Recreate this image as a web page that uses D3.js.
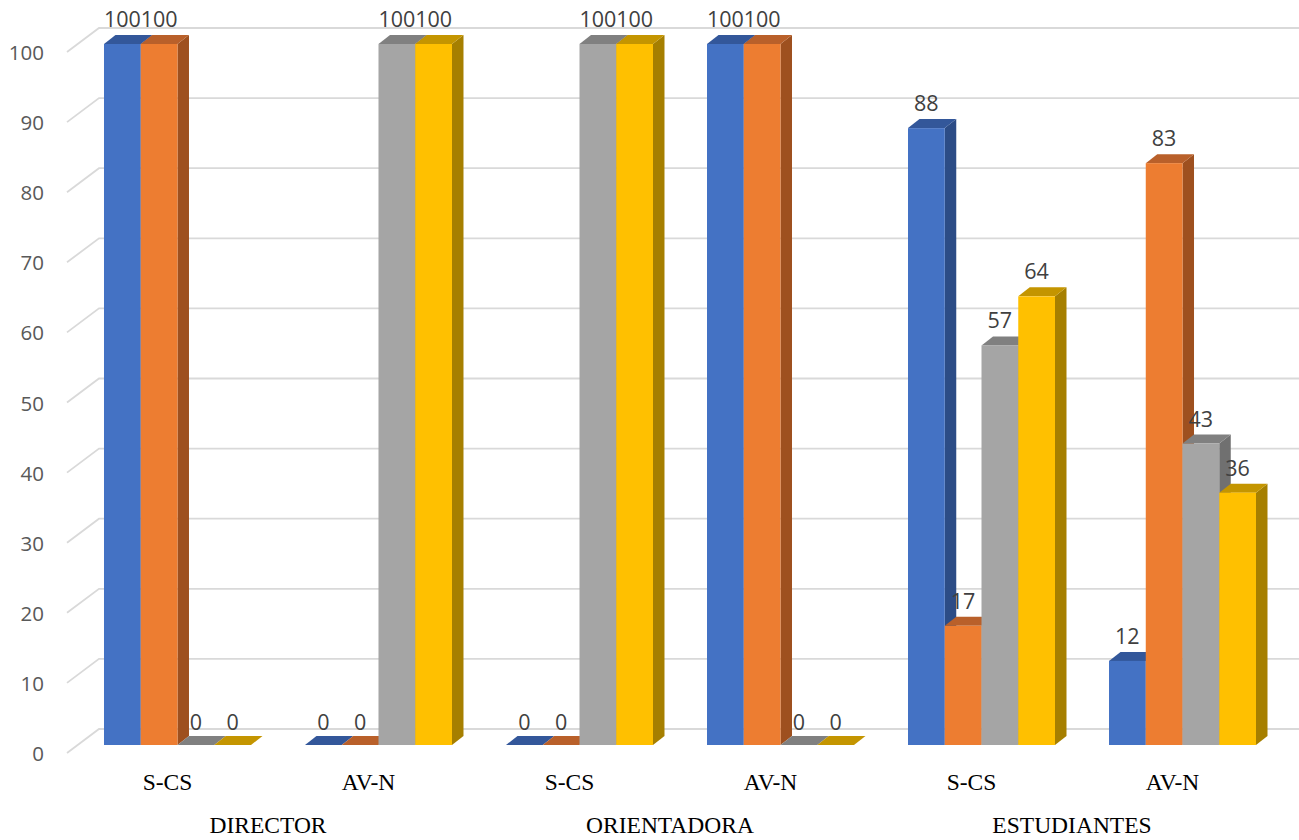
<!DOCTYPE html>
<html><head><meta charset="utf-8">
<script src="https://cdn.jsdelivr.net/npm/d3@7"></script>
<style>body{margin:0;background:#fff;} svg{display:block}</style>
</head><body><svg id="chart" width="1299" height="840"></svg>
<script>
const groups = ["DIRECTOR","ORIENTADORA","ESTUDIANTES"];
const subCategories = ["S-CS","AV-N"];
const seriesNames = ["Serie 1","Serie 2","Serie 3","Serie 4"];
const serie1 = [100,0,0,100,88,12];
const serie2 = [100,0,0,100,17,83];
const serie3 = [0,100,100,0,57,43];
const serie4 = [0,100,100,0,64,36];
const yTicks = [0,10,20,30,40,50,60,70,80,90,100];
const frontColors = ["#4472C4","#ED7D31","#A5A5A5","#FFC000"];
const topColors = ["#33579a","#b9602a","#808080","#c49500"];
const sideColors = ["#2c4c86","#9e501f","#707070","#a67f00"];

const categories = [];
groups.forEach((g,gi)=>subCategories.forEach((s,si)=>categories.push({id:gi+"-"+si, group:g, gi:gi, label:s})));
const seriesValues = [serie1,serie2,serie3,serie4];

const svg = d3.select("#chart");
const depthX = 11.5, depthY = -9;
const floorFrontX = 67, wallX = 99, floorFrontDY = 8, wallDY = -16;

const y = d3.scaleLinear().domain([0,100]).range([745,44]);
const x = d3.scaleBand().domain(categories.map(c=>c.id)).range([77,1283]).paddingInner(0.2687).paddingOuter(0.1343);
const xs = d3.scaleBand().domain(seriesNames).range([0,x.bandwidth()]).padding(0);

// gridlines (3D wall + floor side)
const grid = svg.append("g");
yTicks.forEach(v=>{
  const yy = y(v);
  grid.append("path")
    .attr("d",`M${floorFrontX},${yy+floorFrontDY}L${wallX},${yy+wallDY}L1299,${yy+wallDY}`)
    .attr("fill","none").attr("stroke","#d9d9d9").attr("stroke-width",1.8);
});

// y tick labels
const yAxis = svg.append("g");
yTicks.forEach(v=>{
  yAxis.append("text").attr("x",44).attr("y",y(v)+floorFrontDY)
    .attr("text-anchor","end").attr("dominant-baseline","central")
    .attr("font-family","'Open Sans', sans-serif").attr("font-size",20.5).attr("fill","#595959")
    .text(v);
});

// bars
const bars = svg.append("g");
const labels = svg.append("g");
categories.forEach((c,ci)=>{
  seriesNames.forEach((s,si)=>{
    const v = seriesValues[si][ci];
    const x0 = x(c.id)+xs(s), w = xs.bandwidth();
    const yb = y(0), yt = y(v);
    const g = bars.append("g");
    if (v>0){
      g.append("polygon")
        .attr("points",[[x0+w,yb],[x0+w+depthX,yb+depthY],[x0+w+depthX,yt+depthY],[x0+w,yt]].map(p=>p.join(",")).join(" "))
        .attr("fill",sideColors[si]);
      g.append("polygon")
        .attr("points",[[x0,yt],[x0+w,yt],[x0+w+depthX,yt+depthY],[x0+depthX,yt+depthY]].map(p=>p.join(",")).join(" "))
        .attr("fill",topColors[si]);
      g.append("rect").attr("x",x0).attr("y",yt).attr("width",w).attr("height",yb-yt)
        .attr("fill",frontColors[si]);
    } else {
      g.append("polygon")
        .attr("points",[[x0,yb],[x0+w,yb],[x0+w+depthX,yb+depthY],[x0+depthX,yb+depthY]].map(p=>p.join(",")).join(" "))
        .attr("fill",topColors[si]);
    }
    labels.append("text").attr("x",x0+w/2).attr("y",yt-(v>0?17:15))
      .attr("text-anchor","middle")
      .attr("font-family","'Open Sans', sans-serif").attr("font-size",21.5).attr("fill","#404040")
      .text(v);
  });
});

// category labels
const xl = svg.append("g");
const catX = categories.map(c=>x(c.id)+x.bandwidth()/2-10);
categories.forEach((c,ci)=>{
  xl.append("text").attr("x",catX[ci]).attr("y",790).attr("text-anchor","middle")
    .attr("font-family","'Liberation Serif', 'Times New Roman', serif").attr("font-size",23.5).attr("fill","#000")
    .text(c.label);
});
groups.forEach((g,gi)=>{
  const cx = d3.mean(categories.map((c,ci)=>c.gi===gi?catX[ci]:null).filter(d=>d!==null));
  xl.append("text").attr("x",cx).attr("y",833).attr("text-anchor","middle")
    .attr("font-family","'Liberation Serif', 'Times New Roman', serif").attr("font-size",23.5).attr("fill","#000")
    .text(g);
});
</script></body></html>
